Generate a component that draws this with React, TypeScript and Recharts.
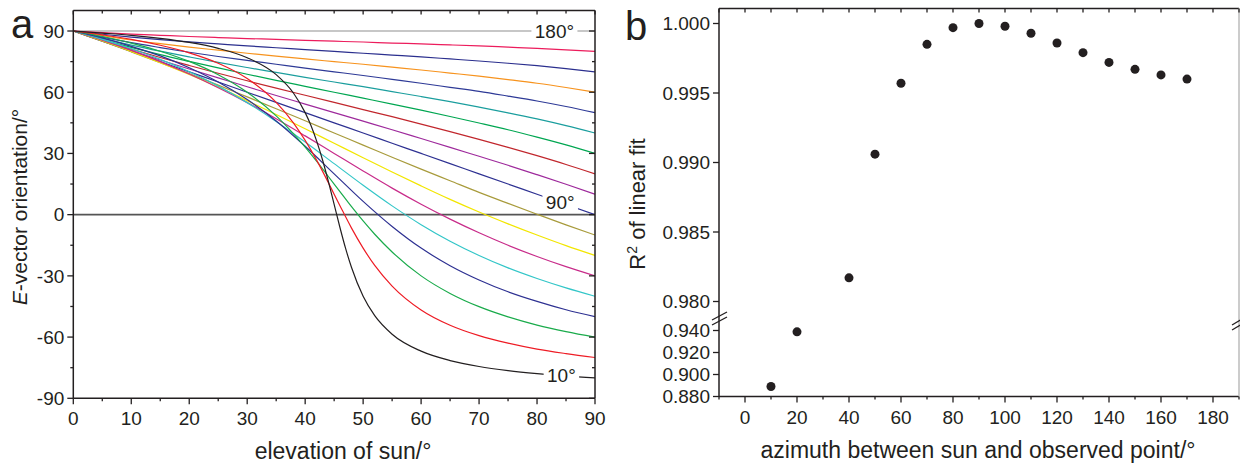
import React from 'react';
import {
  LineChart, Line, XAxis, YAxis, ReferenceLine, ReferenceDot,
  ScatterChart, Scatter,
} from 'recharts';

const FONT = '"Liberation Sans", Arial, Helvetica, sans-serif';
const INK = '#231f20';

// ---- panel a: E-vector orientation vs. sun elevation, one curve per azimuth ----
const ELEV = [0, 5, 10, 15, 20, 25, 30, 35, 40, 45, 50, 55, 60, 65, 70, 75, 80, 85, 90];
const ELEV_FINE = [0, 5, 10, 15, 20, 25, 30, 35, 38, 40, 42, 44, 45, 46, 48, 50, 52, 55, 60, 65, 70, 75, 80, 85, 90];
const ELEV_FINE_10 = [0, 5, 10, 15, 20, 25, 30, 35, 38, 40, 41, 42, 43, 44, 45, 46, 47, 48, 50, 52, 55, 60, 65, 70, 75, 80, 85, 90];

const AZ10 = [90, 89.0, 87.9, 86.4, 84.4, 81.5, 76.9, 68.6, 59.5, 50.0, 43.7, 35.9, 26.8, 16.3, 5.0, -6.3, -16.8, -25.9, -40.0, -49.5, -58.6, -66.9, -71.5, -74.4, -76.4, -77.9, -79.1, -80.0];
const AZ20 = [90, 88.1, 85.9, 83.0, 79.3, 74.2, 66.7, 55.0, 44.9, 36.4, 26.6, 15.7, 10.0, 4.4, -6.6, -16.4, -24.9, -35.0, -46.7, -54.2, -59.3, -63.0, -65.9, -68.1, -70.0];
const AZ30 = [90, 87.3, 84.1, 80.1, 75.1, 68.6, 60.0, 48.4, 39.6, 33.1, 26.1, 18.7, 15.0, 11.3, 3.9, -3.1, -9.6, -18.3, -30.0, -38.6, -45.1, -50.1, -54.1, -57.3, -60.0];
const AZ40 = [90, 86.6, 82.5, 77.8, 72.0, 65.0, 56.4, 45.9, 33.5, 20.0, 6.5, -5.8, -16.4, -25.0, -32.0, -37.8, -42.5, -46.6, -50.0];
const AZ50 = [90, 85.9, 81.3, 76.1, 70.0, 63.0, 54.9, 45.7, 35.6, 25.0, 14.4, 4.3, -4.9, -13.0, -20.0, -26.1, -31.3, -35.9, -40.0];
const AZ60 = [90, 85.5, 80.5, 75.0, 68.9, 62.2, 54.9, 47.0, 38.6, 30.0, 21.4, 13.0, 5.1, -2.2, -8.9, -15.0, -20.5, -25.5, -30.0];
const AZ70 = [90, 85.2, 80.0, 74.5, 68.7, 62.5, 55.9, 49.1, 42.1, 35.0, 27.9, 20.9, 14.1, 7.5, 1.3, -4.5, -10.0, -15.2, -20.0];
const AZ80 = [90, 85.0, 79.8, 74.5, 69.1, 63.5, 57.7, 51.9, 46.0, 40.0, 34.1, 28.1, 22.3, 16.6, 10.9, 5.5, 0.2, -5.0, -10.0];
const AZ90 = [90, 85, 80, 75, 70, 65, 60, 55, 50, 45, 40, 35, 30, 25, 20, 15, 10, 5, 0];
const AZ100 = [90, 85.2, 80.4, 75.8, 71.4, 67.0, 62.7, 58.4, 54.2, 50.0, 45.8, 41.6, 37.3, 33.0, 28.6, 24.2, 19.6, 14.9, 10.0];
const AZ110 = [90, 85.4, 81.1, 77.0, 73.1, 69.3, 65.6, 62.0, 58.5, 55.0, 51.5, 48.0, 44.4, 40.7, 36.9, 33.0, 28.9, 24.6, 20.0];
const AZ120 = [90, 85.8, 82.0, 78.4, 75.1, 71.9, 68.8, 65.8, 62.9, 60.0, 57.1, 54.2, 51.2, 48.1, 44.9, 41.6, 38.0, 34.2, 30.0];
const AZ130 = [90, 86.4, 83.1, 80.1, 77.3, 74.6, 72.1, 69.7, 67.3, 65.0, 62.7, 60.3, 57.9, 55.4, 52.7, 49.9, 46.9, 43.6, 40.0];
const AZ140 = [90, 87.0, 84.3, 81.9, 79.6, 77.5, 75.6, 73.7, 71.8, 70.0, 68.2, 66.3, 64.4, 62.4, 60.4, 58.1, 55.7, 53.0, 50.0];
const AZ150 = [90, 87.7, 85.6, 83.8, 82.1, 80.6, 79.1, 77.7, 76.3, 75.0, 73.7, 72.3, 70.9, 69.4, 67.9, 66.2, 64.4, 62.3, 60.0];
const AZ160 = [90, 88.4, 87.0, 85.8, 84.7, 83.7, 82.7, 81.8, 80.9, 80.0, 79.1, 78.2, 77.3, 76.3, 75.3, 74.2, 73.0, 71.6, 70.0];
const AZ170 = [90, 89.2, 88.5, 87.9, 87.3, 86.8, 86.3, 85.9, 85.4, 85.0, 84.6, 84.1, 83.7, 83.2, 82.7, 82.1, 81.5, 80.8, 80.0];
const AZ180 = [90, 90, 90, 90, 90, 90, 90, 90, 90, 90, 90, 90, 90, 90, 90, 90, 90, 90, 90];

const A_X_TICKS = [0, 5, 10, 15, 20, 25, 30, 35, 40, 45, 50, 55, 60, 65, 70, 75, 80, 85, 90];
const A_Y_TICKS = [-90, -75, -60, -45, -30, -15, 0, 15, 30, 45, 60, 75, 90];

// curve labels sitting on the lines
const A_TAGS = [
  { text: '180°', x: 83, y: 90 },
  { text: '90°', x: 84, y: 6 },
  { text: '10°', x: 84.2, y: -78.8 },
];

// ---- panel b: R² of linear fit vs azimuth ----
const B_AZIMUTH = [10, 20, 40, 50, 60, 70, 80, 90, 100, 110, 120, 130, 140, 150, 160, 170];
const B_R2 = [0.8891, 0.9388, 0.9817, 0.9906, 0.9957, 0.9985, 0.9997, 1.0, 0.9998, 0.9993, 0.9986, 0.9979, 0.9972, 0.9967, 0.9963, 0.996];
const B_R2_TICKS = [0.88, 0.9, 0.92, 0.94, 0.98, 0.985, 0.99, 0.995, 1.0];
const B_X_TICKS = [-10, 0, 10, 20, 30, 40, 50, 60, 70, 80, 90, 100, 110, 120, 130, 140, 150, 160, 170, 180, 190];

// broken y axis: 0.880-0.940 squeezed below, 0.980-1.000 stretched above
const toBroken = (v: number) => (v <= 0.96 ? (v - 0.88) * 1100 : 95 + (v - 0.98) * 13900);

const curves = [
  { az: 180, elev: ELEV, vals: AZ180, color: '#b5b5b5', top: true },
  { az: 170, elev: ELEV, vals: AZ170, color: '#ec1c5c' },
  { az: 160, elev: ELEV, vals: AZ160, color: '#2b2f8e' },
  { az: 150, elev: ELEV, vals: AZ150, color: '#f7931e' },
  { az: 140, elev: ELEV, vals: AZ140, color: '#2e3a97' },
  { az: 130, elev: ELEV, vals: AZ130, color: '#1b9e9e' },
  { az: 120, elev: ELEV, vals: AZ120, color: '#00a651' },
  { az: 110, elev: ELEV, vals: AZ110, color: '#c1272d' },
  { az: 100, elev: ELEV, vals: AZ100, color: '#9e2a9c' },
  { az: 90, elev: ELEV, vals: AZ90, color: '#2e3192' },
  { az: 80, elev: ELEV, vals: AZ80, color: '#a89b3c' },
  { az: 70, elev: ELEV, vals: AZ70, color: '#f2e600' },
  { az: 60, elev: ELEV, vals: AZ60, color: '#c82c8a' },
  { az: 50, elev: ELEV, vals: AZ50, color: '#33c6c8' },
  { az: 40, elev: ELEV, vals: AZ40, color: '#2e3192' },
  { az: 30, elev: ELEV_FINE, vals: AZ30, color: '#1aab4b' },
  { az: 20, elev: ELEV_FINE, vals: AZ20, color: '#ee1c25' },
  { az: 10, elev: ELEV_FINE_10, vals: AZ10, color: INK },
];

const toPoints = (xs: number[], ys: number[]) => xs.map((x, i) => ({ x, y: ys[i] }));
const bPoints = B_AZIMUTH.map((x, i) => ({ x, y: toBroken(B_R2[i]) }));

type TickOpts = {
  side: 'left' | 'right' | 'top' | 'bottom';
  major: (v: number) => boolean;
  majorLen: number;
  minorLen: number;
  inward?: boolean;
  label?: (v: number, i: number) => string;
};

const makeTick = (o: TickOpts) => (props: any) => {
  const { x, y, payload, index } = props;
  const v = payload.value;
  const isMajor = o.major(v);
  const len = isMajor ? o.majorLen : o.minorLen;
  let dx = 0;
  let dy = 0;
  if (o.side === 'left') dx = -1;
  else if (o.side === 'right') dx = 1;
  else if (o.side === 'top') dy = -1;
  else dy = 1;
  if (o.inward) { dx = -dx; dy = -dy; }
  const txt = isMajor && o.label ? o.label(v, index) : null;
  return (
    <g>
      {len > 0 && <line x1={x} y1={y} x2={x + dx * len} y2={y + dy * len} stroke={INK} strokeWidth={1.3} />}
      {txt != null && o.side === 'left' && (
        <text x={x - 9} y={y} dy="0.36em" textAnchor="end" fontSize={19} fontFamily={FONT} fill={INK}>{txt}</text>
      )}
      {txt != null && o.side === 'bottom' && (
        <text x={x} y={y + 27} textAnchor="middle" fontSize={19} fontFamily={FONT} fill={INK}>{txt}</text>
      )}
    </g>
  );
};

const tagLabel = (text: string) => (props: any) => {
  const vb = props.viewBox || {};
  const cx = (vb.x ?? 0) + (vb.width ?? 0) / 2;
  const cy = (vb.y ?? 0) + (vb.height ?? 0) / 2;
  const w = text.length * 10.5 + 4;
  return (
    <g>
      <rect x={cx - w / 2} y={cy - 9} width={w} height={18} fill="#fff" />
      <text x={cx} y={cy} dy="0.36em" textAnchor="middle" fontSize={19} fontFamily={FONT} fill={INK}>{text}</text>
    </g>
  );
};

const axisLine = { stroke: INK, strokeWidth: 1.5 };

const ChartA = () => (
  <LineChart width={610} height={465} margin={{ top: 6.6, right: 10, bottom: 26.7, left: 33.3 }}>
    <XAxis dataKey="x" type="number" domain={[0, 90]} ticks={A_X_TICKS} interval={0} allowDataOverflow
      tickSize={0} tickMargin={0} height={40} axisLine={axisLine}
      tick={makeTick({ side: 'bottom', major: (v) => v % 10 === 0, majorLen: 6, minorLen: 3, label: (v) => String(v) })}
      label={{ content: () => (
        <text x={343} y={459} textAnchor="middle" fontSize={23} fontFamily={FONT} fill={INK}>elevation of sun/°</text>
      ) }} />
    <XAxis xAxisId="top" orientation="top" dataKey="x" type="number" domain={[0, 90]} ticks={A_X_TICKS} interval={0}
      allowDataOverflow tickSize={0} tickMargin={0} height={4} axisLine={axisLine}
      tick={makeTick({ side: 'top', major: (v) => v % 10 === 0, majorLen: 4, minorLen: 3, inward: true })} />
    <YAxis type="number" domain={[-90, 100]} ticks={A_Y_TICKS} interval={0} allowDataOverflow
      tickSize={0} tickMargin={0} width={40} axisLine={axisLine}
      tick={makeTick({ side: 'left', major: (v) => v % 30 === 0, majorLen: 6, minorLen: 3, label: (v) => String(v) })}
      label={{ content: () => (
        <g>
          <text x={11} y={38} fontSize={40} fontFamily={FONT} fill={INK}>a</text>
          <text transform="translate(27,207) rotate(-90)" textAnchor="middle" fontSize={21} fontFamily={FONT} fill={INK}>
            <tspan fontStyle="italic">E</tspan>-vector orientation/°
          </text>
        </g>
      ) }} />
    <YAxis yAxisId="right" orientation="right" type="number" domain={[-90, 100]} ticks={A_Y_TICKS} interval={0}
      allowDataOverflow tickSize={0} tickMargin={0} width={5} axisLine={axisLine}
      tick={makeTick({ side: 'right', major: (v) => v % 30 === 0, majorLen: 6, minorLen: 3, inward: true })} />
    <ReferenceLine y={0} stroke="#555" strokeWidth={1.6} />
    {curves.map((c) => (
      <Line key={c.az} data={toPoints(c.elev, c.vals)} dataKey="y" type="monotone"
        xAxisId={c.top ? 'top' : 0} yAxisId={c.top ? 'right' : 0}
        stroke={c.color} strokeWidth={c.top ? 1.5 : 1.2} dot={false} activeDot={false} isAnimationActive={false} />
    ))}
    {A_TAGS.map((t) => (
      <ReferenceDot key={t.text} x={t.x} y={t.y} r={1} fill="none" stroke="none" label={{ content: tagLabel(t.text) }} />
    ))}
  </LineChart>
);

const ChartB = () => (
  <ScatterChart width={630} height={465} margin={{ top: 4.5, right: 0, bottom: 28.5, left: 49 }}>
    <XAxis dataKey="x" type="number" domain={[-10, 190]} ticks={B_X_TICKS} interval={0} allowDataOverflow
      tickSize={0} tickMargin={0} height={40} axisLine={axisLine}
      tick={makeTick({ side: 'bottom', major: (v) => v % 20 === 0 && v >= 0 && v <= 180, majorLen: 6, minorLen: 3, label: (v) => String(v) })}
      label={{ content: () => (
        <text x={368} y={458} textAnchor="middle" fontSize={23} fontFamily={FONT} fill={INK}>azimuth between sun and observed point/°</text>
      ) }} />
    <XAxis xAxisId="top" orientation="top" dataKey="x" type="number" domain={[-10, 190]} ticks={B_X_TICKS} interval={0}
      allowDataOverflow tickSize={0} tickMargin={0} height={4} axisLine={axisLine}
      tick={makeTick({ side: 'top', major: () => true, majorLen: 4, minorLen: 4, inward: true })} />
    <YAxis dataKey="y" type="number" domain={[0, 388]} ticks={B_R2_TICKS.map(toBroken)} interval={0} allowDataOverflow
      tickSize={0} tickMargin={0} width={60} axisLine={axisLine}
      tick={makeTick({ side: 'left', major: () => true, majorLen: 6, minorLen: 6, label: (_v, i) => B_R2_TICKS[i].toFixed(3) })}
      label={{ content: () => (
        <g>
          <text x={15} y={40} fontSize={40} fontFamily={FONT} fill={INK}>b</text>
          <text transform="translate(35,204) rotate(-90)" textAnchor="middle" fontSize={22} fontFamily={FONT} fill={INK}>
            R<tspan dy={-8} fontSize={14}>2</tspan><tspan dy={8}> of linear fit</tspan>
          </text>
          <line x1={102} y1={320} x2={117} y2={312} stroke={INK} strokeWidth={1.3} />
          <line x1={102} y1={325} x2={117} y2={317} stroke={INK} strokeWidth={1.3} />
        </g>
      ) }} />
    <YAxis yAxisId="right" orientation="right" dataKey="y" type="number" domain={[0, 388]} allowDataOverflow
      tick={false} tickLine={false} width={1} axisLine={{ stroke: '#bbb', strokeWidth: 1.5 }}
      label={{ content: () => (
        <g>
          <line x1={622} y1={325} x2={632} y2={319} stroke={INK} strokeWidth={1.3} />
          <line x1={622} y1={330} x2={632} y2={324} stroke={INK} strokeWidth={1.3} />
        </g>
      ) }} />
    <Scatter data={bPoints} fill={INK} isAnimationActive={false}
      shape={(p: any) => <circle cx={p.cx} cy={p.cy} r={4.5} fill={INK} />} />
  </ScatterChart>
);

export default function App() {
  return (
    <div style={{ position: 'absolute', left: 0, top: 0, width: 1240, height: 465, background: '#fff', overflow: 'hidden' }}>
      <div style={{ position: 'absolute', left: 0, top: 0 }}>
        <ChartA />
      </div>
      <div style={{ position: 'absolute', left: 610, top: 0 }}>
        <ChartB />
      </div>
    </div>
  );
}
